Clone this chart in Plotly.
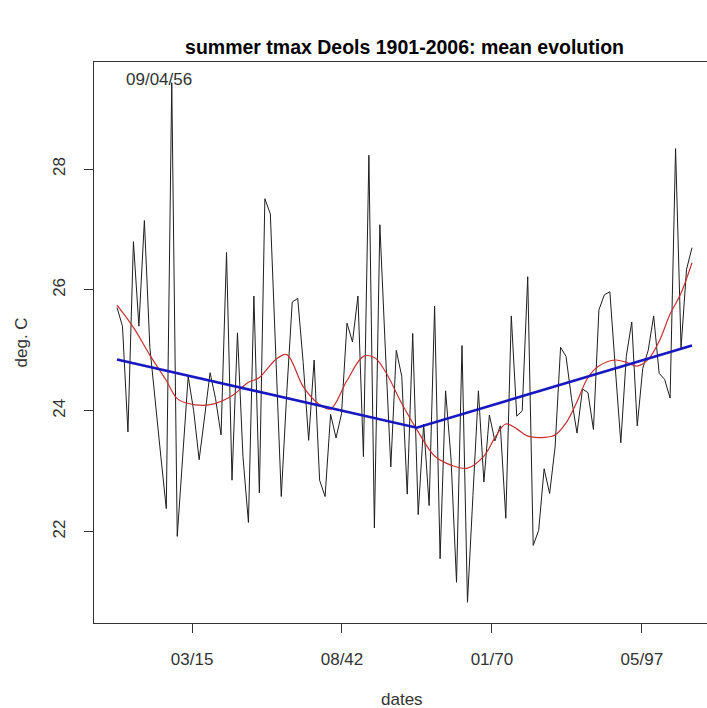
import pandas as pd
import plotly.graph_objects as go

# Summer maximum temperature, Deols, one value per year (deg. C)
years = list(range(1901, 2007))
tmax = [
    25.71, 25.40, 23.65, 26.80, 25.40, 27.15, 25.05, 24.10, 23.25, 22.38,  # 1901-1910
    29.43, 21.92, 23.30, 24.57, 24.00, 23.19, 23.90, 24.63, 24.20, 23.60,  # 1911-1920
    26.62, 22.85, 25.29, 23.24, 22.15, 25.90, 22.64, 27.51, 27.26, 25.00,  # 1921-1930
    22.58, 24.30, 25.80, 25.86, 24.80, 23.51, 24.84, 22.85, 22.58, 23.94,  # 1931-1940
    23.55, 23.95, 25.45, 25.14, 25.90, 23.24, 28.23, 22.06, 27.08, 25.02,  # 1941-1950
    23.07, 25.00, 24.57, 22.62, 25.28, 22.28, 23.78, 22.43, 25.73, 21.55,  # 1951-1960
    24.33, 23.20, 21.16, 25.08, 20.83, 22.60, 24.33, 22.82, 23.93, 23.50,  # 1961-1970
    23.75, 22.22, 25.57, 23.91, 24.00, 26.22, 21.77, 22.02, 23.04, 22.63,  # 1971-1980
    23.40, 25.05, 24.90, 24.20, 23.63, 24.36, 24.30, 23.69, 25.67, 25.92,  # 1981-1990
    25.97, 24.70, 23.47, 24.90, 25.47, 23.75, 24.70, 25.00, 25.57, 24.62,  # 1991-2000
    24.52, 24.21, 28.34, 25.04, 26.34, 26.70,                              # 2001-2006
]

# Smoothed mean evolution
smooth_years = [1901, 1904, 1907, 1910, 1912, 1914, 1918, 1922, 1925, 1927,
                1930, 1932, 1935, 1938, 1940, 1943, 1946, 1948, 1950, 1953,
                1956, 1959, 1962, 1965, 1968, 1970, 1972, 1974, 1976, 1979,
                1981, 1983, 1985, 1987, 1989, 1992, 1994, 1996, 1998, 2000,
                2002, 2004, 2006]
smooth_vals = [25.75, 25.38, 24.92, 24.50, 24.20, 24.12, 24.10, 24.25, 24.47, 24.55,
               24.85, 24.93, 24.40, 24.10, 24.03, 24.50, 24.90, 24.88, 24.65, 24.12,
               23.65, 23.25, 23.10, 23.05, 23.25, 23.55, 23.78, 23.70, 23.58, 23.56,
               23.60, 23.80, 24.15, 24.55, 24.74, 24.84, 24.80, 24.74, 24.85, 25.15,
               25.60, 25.95, 26.45]

# Piecewise linear trend with a break on 9 April 1956
trend_dates = ["1901-07-16", "1956-04-09", "2006-07-16"]
trend_vals = [24.85, 23.72, 25.08]
break_label = "09/04/56"

# Axis ticks
tick_dates = ["1915-03-31", "1942-08-16", "1970-01-01", "1997-05-19"]
tick_text = ["03/15", "08/42", "01/70", "05/97"]
y_ticks = [22, 24, 26, 28]

dates = pd.to_datetime([f"{y}-07-16" for y in years])
smooth_dates = pd.to_datetime([f"{y}-07-16" for y in smooth_years])

# R-style 4% padding on both axes
span = dates.max() - dates.min()
x0 = dates.min() - 0.04 * span
x1_full = dates.max() + 0.04 * span
x1 = x0 + (x1_full - x0) * (613 / 621)   # right side runs off the page
ymin, ymax = min(tmax), max(tmax)
ypad = 0.04 * (ymax - ymin)

FONT = "Liberation Sans, Arial, sans-serif"
TXT = "#333333"

fig = go.Figure()
fig.add_trace(go.Scatter(x=dates, y=tmax, mode="lines",
                         line=dict(color="#1e1e1e", width=1), showlegend=False))
fig.add_trace(go.Scatter(x=smooth_dates, y=smooth_vals, mode="lines",
                         line=dict(color="#c83030", width=1.2, shape="spline", smoothing=1.0),
                         showlegend=False))
fig.add_trace(go.Scatter(x=pd.to_datetime(trend_dates), y=trend_vals, mode="lines",
                         line=dict(color="#1818c0", width=2.6), showlegend=False))

fig.add_annotation(text=break_label, xref="paper", yref="paper", x=0.106, y=0.968,
                   showarrow=False, xanchor="center", yanchor="middle",
                   font=dict(family=FONT, size=17, color=TXT))
fig.add_annotation(text="dates", xref="paper", yref="paper", x=0.503, y=-0.1355,
                   showarrow=False, xanchor="center", yanchor="middle",
                   font=dict(family=FONT, size=17, color=TXT))
fig.add_annotation(text="deg. C", xref="paper", yref="paper", x=-0.1175, y=0.5,
                   showarrow=False, xanchor="center", yanchor="middle", textangle=-90,
                   font=dict(family=FONT, size=17, color=TXT))

fig.update_layout(
    width=707, height=708,
    margin=dict(l=94, r=0, t=62, b=85),
    paper_bgcolor="white", plot_bgcolor="white",
    title=dict(text="<b>summer tmax Deols 1901-2006: mean evolution</b>",
               x=(404.5) / 707, xanchor="center", y=1 - 47 / 708, yanchor="middle",
               font=dict(family=FONT, size=19.5, color="#000000")),
    xaxis=dict(type="date", range=[x0, x1], tickvals=pd.to_datetime(tick_dates),
               ticktext=tick_text, ticks="outside", ticklen=9, tickcolor="#333",
               showline=True, linecolor="#333", linewidth=1, mirror=True,
               showgrid=False, zeroline=False, ticklabelstandoff=12,
               tickfont=dict(family=FONT, size=17, color=TXT)),
    yaxis=dict(range=[ymin - ypad, ymax + ypad], tickvals=y_ticks,
               ticks="outside", ticklen=9, tickcolor="#333", tickangle=-90,
               showline=True, linecolor="#333", linewidth=1,
               showgrid=False, zeroline=False, ticklabelstandoff=12,
               tickfont=dict(family=FONT, size=17, color=TXT)),
)

fig.write_html("out.html")
